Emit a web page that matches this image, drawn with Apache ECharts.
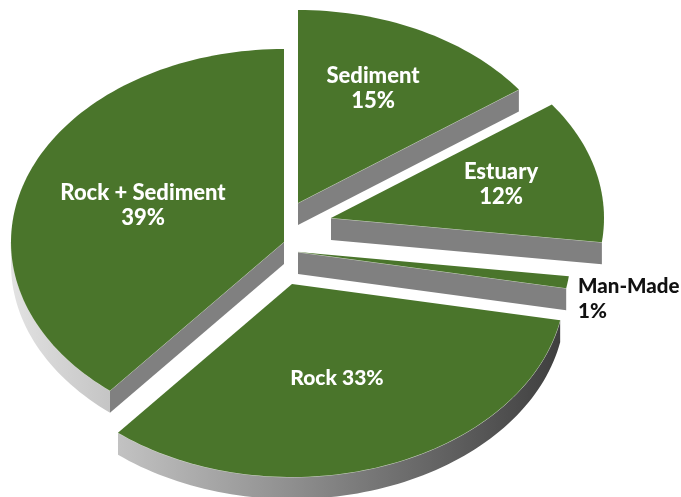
<!DOCTYPE html>
<html>
<head>
<meta charset="utf-8">
<style>
  html, body { margin: 0; padding: 0; background: #fff; }
  #chart { width: 681px; height: 497px; }
</style>
</head>
<body>
<div id="chart"></div>
<script src="https://cdn.jsdelivr.net/npm/echarts@6/dist/echarts.min.js"></script>
<script>
// data, clockwise from 12 o'clock
var categories = ["Sediment", "Estuary", "Man-Made", "Rock", "Rock + Sediment"];
var shares = [15, 12, 1, 33, 39];
var labelLines = [
  ["Sediment", "15%"],
  ["Estuary", "12%"],
  ["Man-Made", "1%"],
  ["Rock 33%"],
  ["Rock + Sediment", "39%"]
];

// layout of the exploded tilted pie
var apexX = [298, 331, 298, 292, 284];
var apexY = [203, 218, 252, 284, 242];
var labelX = [373, 501, 578, 337, 143];
var labelY = [88.5, 184, 298.5, 378, 205];
var labelAlign = ["center", "center", "left", "center", "center"];
var labelColor = ["#fff", "#fff", "#111", "#fff", "#fff"];
var labelSize = [22, 22, 20.5, 21, 22];
var rx = 273, ry = 193, depth = 22;

var total = shares.reduce(function (a, b) { return a + b; }, 0);
var running = 0;
var seriesData = shares.map(function (v, i) {
  var item = { name: categories[i], value: [v, running] };
  running += v;
  return item;
});

function rimPoint(cx, cy, deg, drop) {
  var r = deg * Math.PI / 180;
  return [cx + rx * Math.sin(r), cy - ry * Math.cos(r) + drop];
}

function arcPoints(cx, cy, from, to, drop) {
  var pts = [];
  var n = Math.max(2, Math.ceil((to - from) / 1.5));
  for (var k = 0; k <= n; k++) {
    pts.push(rimPoint(cx, cy, from + (to - from) * k / n, drop));
  }
  return pts;
}

function renderSlice(params, api) {
  var i = params.dataIndex;
  var a = api.value(1) / total * 360;
  var b = a + api.value(0) / total * 360;
  var cx = apexX[i], cy = apexY[i];
  var kids = [];
  var edge = { stroke: "#d9dfd2", lineWidth: 0.8, fill: null };

  // flat side walls, only the ones facing the viewer
  [a, b].forEach(function (deg, e) {
    var s = Math.sin(deg * Math.PI / 180);
    if ((e === 0 && s < -0.01) || (e === 1 && s > 0.01)) {
      var p = rimPoint(cx, cy, deg, 0);
      kids.push({
        type: "polygon",
        shape: { points: [[cx, cy], p, [p[0], p[1] + depth], [cx, cy + depth]] },
        style: { fill: "#808080" }
      });
      kids.push({ type: "polyline", shape: { points: [[cx, cy], p] }, style: edge });
    }
  });

  // curved outer wall on the lower half of the rim, slivers under 3px are skipped
  var from = Math.max(a, 90), to = Math.min(b, 270);
  var upper = to > from ? arcPoints(cx, cy, from, to, 0) : [];
  if (upper.length && Math.abs(upper[0][0] - upper[upper.length - 1][0]) > 3) {
    var lower = arcPoints(cx, cy, from, to, depth).reverse();
    kids.push({
      type: "polygon",
      shape: { points: upper.concat(lower) },
      style: {
        fill: new echarts.graphic.LinearGradient(11, 0, 570, 0, [
          { offset: 0, color: "#e2e2e2" },
          { offset: 1, color: "#3c3c3c" }
        ], true)
      }
    });
    kids.push({ type: "polyline", shape: { points: upper }, style: edge });
  }

  // top face
  kids.push({
    type: "polygon",
    shape: { points: [[cx, cy]].concat(arcPoints(cx, cy, a, b, 0)) },
    style: { fill: "#4a752b" }
  });

  kids.push({
    type: "text",
    style: {
      x: labelX[i],
      y: labelY[i],
      text: labelLines[i].join("\n"),
      fill: labelColor[i],
      fontFamily: "Lato, 'Open Sans', sans-serif",
      fontWeight: 900,
      fontSize: labelSize[i],
      lineHeight: 25,
      align: labelAlign[i],
      verticalAlign: "middle"
    },
    z2: 10
  });

  return { type: "group", children: kids };
}

var chart = echarts.init(document.getElementById("chart"));
chart.setOption({
  animation: false,
  backgroundColor: "#fff",
  series: [{
    type: "custom",
    coordinateSystem: "none",
    silent: true,
    renderItem: renderSlice,
    encode: { value: 0 },
    data: seriesData
  }]
});
</script>
</body>
</html>
